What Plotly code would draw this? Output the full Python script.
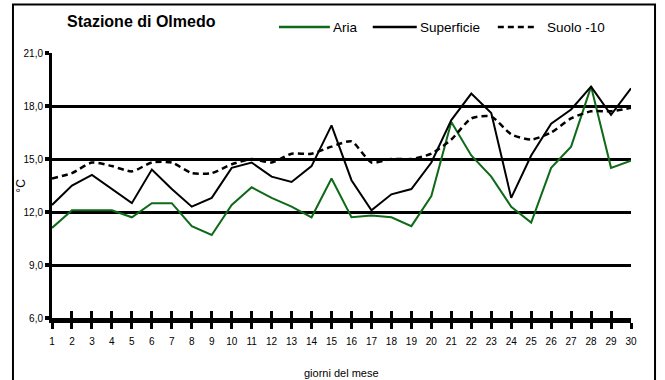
import plotly.graph_objects as go

# Daily temperatures (°C) at the Olmedo station
giorni = list(range(1, 31))
aria = [11.1, 12.1, 12.1, 12.1, 11.7, 12.5, 12.5, 11.2, 10.7, 12.4,
        13.4, 12.8, 12.3, 11.7, 13.9, 11.7, 11.8, 11.7, 11.2, 12.9,
        17.1, 15.2, 14.0, 12.3, 11.4, 14.5, 15.7, 19.1, 14.5, 14.9]
superficie = [12.4, 13.5, 14.1, 13.3, 12.5, 14.4, 13.3, 12.3, 12.8, 14.5,
              14.8, 14.0, 13.7, 14.6, 16.9, 13.8, 12.1, 13.0, 13.3, 14.8,
              17.2, 18.7, 17.6, 12.8, 15.2, 17.0, 17.8, 19.1, 17.5, 19.0]
suolo_10 = [13.9, 14.2, 14.8, 14.6, 14.3, 14.8, 14.8, 14.2, 14.2, 14.7,
            15.0, 14.8, 15.3, 15.3, 15.7, 16.0, 14.8, 15.0, 15.0, 15.3,
            16.1, 17.3, 17.4, 16.4, 16.1, 16.5, 17.3, 17.7, 17.7, 17.9]

y_ticks = [6, 9, 12, 15, 18, 21]
y_tick_labels = ["6,0", "9,0", "12,0", "15,0", "18,0", "21,0"]

series_names = ["Aria", "Superficie", "Suolo -10"]

FONT = "Liberation Sans, Arial, Helvetica, sans-serif"
GREEN = "#0f6a18"

styles = [
    dict(color=GREEN, width=2),
    dict(color="black", width=2),
    dict(color="black", width=2.5, dash="6px,4px", shape="spline", smoothing=0.6),
]

fig = go.Figure()
for name, values, style in zip(series_names, [aria, superficie, suolo_10], styles):
    fig.add_trace(go.Scatter(x=giorni, y=values, name=name, mode="lines",
                             line=style, showlegend=False))
# invisible trace on the second x axis so its inside ticks get drawn
fig.add_trace(go.Scatter(x=giorni, y=aria, xaxis="x2", mode="lines",
                         line=dict(width=0), showlegend=False, hoverinfo="skip",
                         opacity=0))

# hand-placed legend row above the plot: (line start, line end, text start) in paper x
legend_pos = [(0.392, 0.480, 0.482), (0.554, 0.630, 0.632), (0.770, 0.839, 0.852)]
legend_y = 1.098
shapes = [dict(type="rect", xref="paper", yref="paper",
               x0=-0.0674, x1=1.0415, y0=-0.3, y1=1.183,
               line=dict(color="black", width=2), layer="below")]
annotations = []
for name, style, (x0, x1, xt) in zip(series_names, styles, legend_pos):
    shapes.append(dict(type="line", xref="paper", yref="paper",
                       x0=x0, x1=x1, y0=legend_y, y1=legend_y,
                       line=dict(color=style["color"], width=2.5,
                                 dash=style.get("dash", "solid"))))
    annotations.append(dict(text=name, xref="paper", yref="paper", x=xt, y=legend_y,
                            xanchor="left", yanchor="middle", showarrow=False,
                            font=dict(family=FONT, size=13.5)))

annotations += [
    dict(text="<b>Stazione di Olmedo</b>", xref="paper", yref="paper",
         x=0.0225, y=1.117, xanchor="left", yanchor="middle", showarrow=False,
         font=dict(family=FONT, size=16)),
    dict(text="giorni del mese", xref="paper", yref="paper",
         x=0.5, y=-0.178, xanchor="center", yanchor="top", showarrow=False,
         font=dict(family=FONT, size=11)),
    dict(text="°C", xref="paper", yref="paper", x=-0.055, y=0.5,
         xanchor="center", yanchor="middle", textangle=-90, showarrow=False,
         font=dict(family=FONT, size=12)),
]

fig.update_layout(
    width=665, height=380,
    margin=dict(l=52, r=34, t=53, b=62, autoexpand=False),
    paper_bgcolor="white", plot_bgcolor="white",
    font=dict(family=FONT, size=10, color="black"),
    showlegend=False,
    xaxis=dict(range=[1, 30], tickvals=giorni, ticktext=[str(g) for g in giorni],
               showgrid=False, zeroline=False, showline=True, linecolor="black",
               linewidth=5, ticks="outside", ticklen=6, tickwidth=3,
               tickcolor="black", tickfont=dict(family=FONT, size=10),
               ticklabelstandoff=4, automargin=False),
    xaxis2=dict(range=[1, 30], overlaying="x", side="bottom", tickvals=giorni,
                showticklabels=False, showgrid=False, zeroline=False,
                ticks="inside", ticklen=7, tickwidth=3, tickcolor="black",
                automargin=False),
    yaxis=dict(range=[6, 21], tickvals=y_ticks, ticktext=y_tick_labels,
               showgrid=True, gridcolor="black", gridwidth=3, zeroline=False,
               showline=True, linecolor="black", linewidth=3,
               ticks="outside", ticklen=4, tickwidth=4, tickcolor="black",
               tickfont=dict(family=FONT, size=10), automargin=False),
    shapes=shapes,
    annotations=annotations,
)

fig.write_html("out.html")
